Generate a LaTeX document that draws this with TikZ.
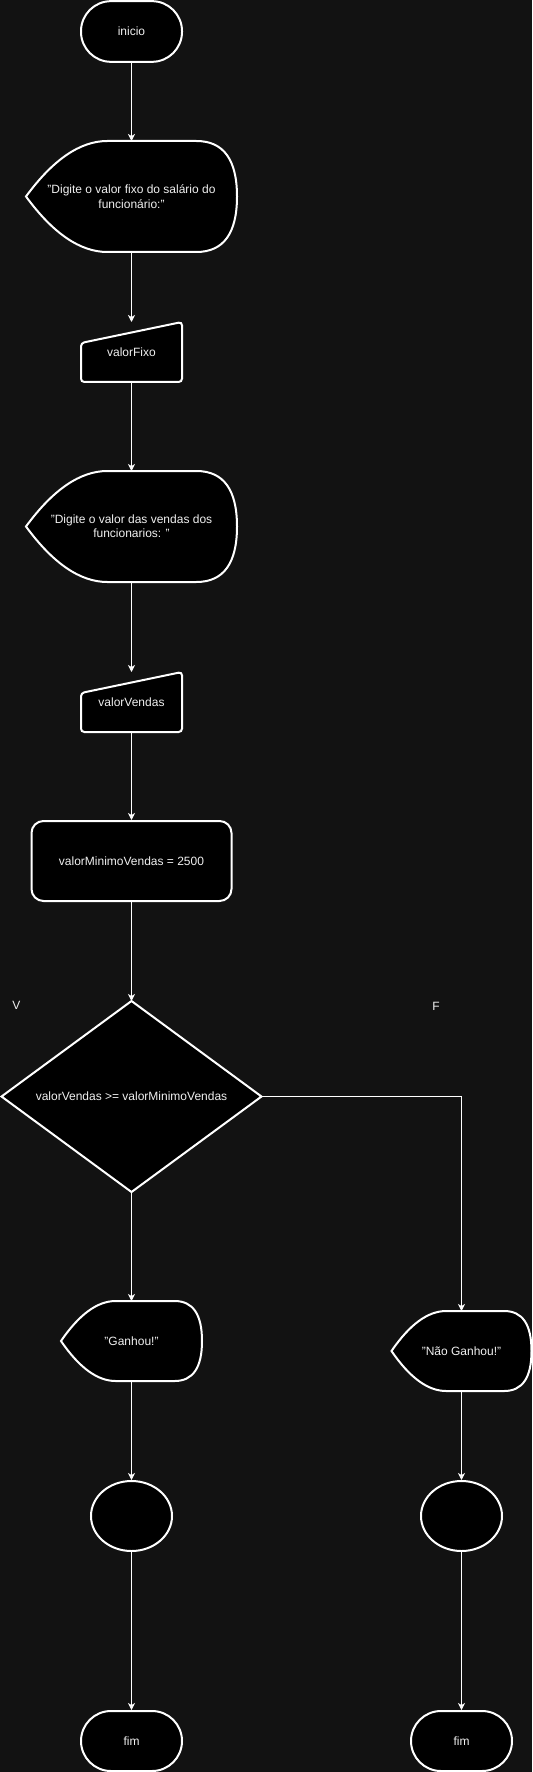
\documentclass[tikz,border=0pt]{standalone}
\usepackage{fontspec}
\setmainfont{Liberation Sans}[Ligatures=NoCommon]
\usetikzlibrary{shapes.geometric,arrows.meta,calc}
\definecolor{bgc}{HTML}{121212}
\definecolor{txt}{HTML}{F0F0F0}
\pgfdeclarelayer{back}
\pgfdeclarelayer{mid}
\pgfsetlayers{back,mid,main}
\tikzset{
  every node/.style={font=\fontsize{9pt}{10.8pt}\selectfont, text=txt},
  box/.style={draw=white, line width=1.5pt, fill=black, inner sep=0pt},
  stadium/.style={box, rectangle, rounded corners=22.5pt, minimum width=75.75pt, minimum height=45.5pt},
  outline/.style={draw=white, line width=1.5pt, fill=black},
  plain/.style={rectangle, inner sep=0pt, outer sep=0pt, align=center},
  conn/.style={draw=white, line width=0.75pt, -{Stealth[length=5.25pt,width=5.25pt,inset=1.5pt]}},
}
% display shape drawn behind a plain node; #2 = right bulge width
\newcommand\dispshape[2]{%
  \path[outline] let \p1=(#1.north west), \p2=(#1.south east), \p3=(#1.west) in
    (\x1,\y3) .. controls ({\x1+2/3*#2},{\y3+2/3*(\y1-\y3)}) and ({\x1+4/3*#2},\y1) .. ({\x1+2*#2},\y1)
    -- ({\x2-#2},\y1) .. controls ({\x2-#2/3},\y1) and (\x2,{\y1-(\y1-\y3)/3}) .. (\x2,\y3)
    .. controls (\x2,{\y2+(\y3-\y2)/3}) and ({\x2-#2/3},\y2) .. ({\x2-#2},\y2)
    -- ({\x1+2*#2},\y2) .. controls ({\x1+4/3*#2},\y2) and ({\x1+2/3*#2},{\y3-2/3*(\y3-\y2)}) .. cycle;}
% manual input shape; #2 = drop of the top-left corner
\newcommand\manshape[2]{%
  \path[outline, rounded corners=2.5pt] let \p1=(#1.north west), \p2=(#1.south east) in
    (\x1,{\y1-#2}) -- (\x2,\y1) -- (\x2,\y2) -- (\x1,\y2) -- cycle;}
\begin{document}
\begin{tikzpicture}[x=0.75pt, y=-0.75pt]
\useasboundingbox (0,0) rectangle (532,1772);
\begin{pgfonlayer}{back}
  \fill[bgc] (0,0) rectangle (532,1772);
\end{pgfonlayer}

\node[stadium] (ini) at (131.5,31.5) {inicio};
\node[plain, minimum width=158.25pt, minimum height=83.25pt] (d1) at (131.5,196.5)
  {"Digite o valor fixo do salário do\\funcionário:"};
\node[plain, minimum width=75.75pt, minimum height=45pt] (m1) at (131.5,352) {valorFixo};
\node[plain, minimum width=158.25pt, minimum height=83.25pt] (d2) at (131.5,526.5)
  {"Digite o valor das vendas dos\\funcionarios: "};
\node[plain, minimum width=75.75pt, minimum height=45pt] (m2) at (131.5,702) {valorVendas};
\node[box, rectangle, rounded corners=9pt, minimum width=150pt, minimum height=60pt] (r) at (131.5,861)
  {valorMinimoVendas = 2500};
\node[plain, minimum width=195pt, minimum height=143.25pt] (dec) at (131.5,1096.5)
  {valorVendas >= valorMinimoVendas};
\node[plain, minimum width=105.75pt, minimum height=60pt] (g) at (131.5,1341) {"Ganhou!"};
\node[plain, minimum width=105pt, minimum height=60pt] (ng) at (461.5,1351) {"Não Ganhou!"};
\node[box, ellipse, minimum width=60.75pt, minimum height=52.5pt] (e1) at (131.5,1516) {};
\node[box, ellipse, minimum width=60.75pt, minimum height=52.5pt] (e2) at (461.5,1516) {};
\node[stadium, minimum height=45pt] (f1) at (131.5,1741) {fim};
\node[stadium, minimum height=45pt] (f2) at (461.5,1741) {fim};
\node (v) at (16.5,1005) {V};
\node (f) at (436,1006) {F};

\begin{pgfonlayer}{mid}
  \path[outline] (dec.north) -- (dec.east) -- (dec.south) -- (dec.west) -- cycle;
  \dispshape{d1}{30.5pt}
  \dispshape{d2}{30.5pt}
  \dispshape{g}{20.5pt}
  \dispshape{ng}{20.5pt}
  \manshape{m1}{15.75pt}
  \manshape{m2}{15.75pt}
\end{pgfonlayer}

\draw[conn] (ini.south) -- (d1.north);
\draw[conn] (d1.south) -- (m1.north);
\draw[conn] (m1.south) -- (d2.north);
\draw[conn] (d2.south) -- (m2.north);
\draw[conn] (m2.south) -- (r.north);
\draw[conn] (r.south) -- (dec.north);
\draw[conn] (dec.south) -- (g.north);
\draw[conn] (dec.east) -| (ng.north);
\draw[conn] (g.south) -- (e1.north);
\draw[conn] (ng.south) -- (e2.north);
\draw[conn] (e1.south) -- (f1.north);
\draw[conn] (e2.south) -- (f2.north);
\end{tikzpicture}
\end{document}
